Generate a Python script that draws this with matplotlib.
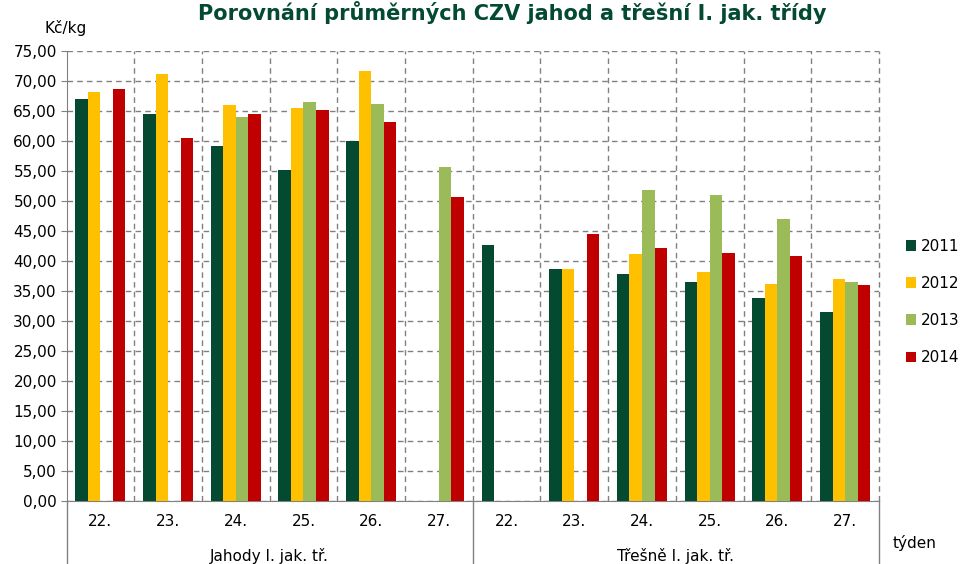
import numpy as np
import matplotlib.pyplot as plt
from matplotlib.lines import Line2D

# data
groups = ['Jahody I. jak. tř.', 'Třešně I. jak. tř.']
weeks = ['22.', '23.', '24.', '25.', '26.', '27.'] * 2
years = ['2011', '2012', '2013', '2014']
nan = np.nan
v2011 = [67.0, 64.5, 59.3, 55.2, 60.1, nan, 42.7, 38.8, 37.9, 36.6, 33.9, 31.6]
v2012 = [68.2, 71.2, 66.0, 65.6, 71.8, nan, nan, 38.8, 41.2, 38.3, 36.3, 37.1]
v2013 = [nan, nan, 64.0, 66.6, 66.2, 55.8, nan, nan, 51.9, 51.0, 47.0, 36.6]
v2014 = [68.7, 60.5, 64.6, 65.3, 63.3, 50.8, nan, 44.6, 42.2, 41.4, 40.9, 36.1]
colors = ['#034a31', '#ffc000', '#9bbb59', '#c00000']

plt.rcParams['font.family'] = 'DejaVu Sans'
fig = plt.figure(figsize=(9.67, 5.64), dpi=100)
W, H = 967.0, 564.0
x0, x1, ytop, ybot = 66.5, 879.0, 51.3, 501.3
ax = fig.add_axes([x0 / W, 1 - ybot / H, (x1 - x0) / W, (ybot - ytop) / H])

x = np.arange(len(weeks))
bw = 0.185
for i, (vals, c, lab) in enumerate(zip([v2011, v2012, v2013, v2014], colors, years)):
    ax.bar(x + (i - 1.5) * bw, vals, bw, color=c, label=lab, zorder=3)

ax.set_xlim(-0.5, len(weeks) - 0.5)
ax.set_ylim(0, 75)
ax.set_yticks(np.arange(0, 76, 5))
ax.set_yticklabels(['%d,00' % v for v in range(0, 76, 5)])
ax.yaxis.grid(True, linestyle=(0, (4, 3)), color='#808080', lw=1)
for xv in np.arange(0.5, len(weeks) + 0.5, 1.0):
    ax.axvline(xv, linestyle=(0, (4, 3)), color='#808080', lw=1, zorder=1, clip_on=False)
ax.set_axisbelow(True)

for s in ['top', 'right']:
    ax.spines[s].set_visible(False)
for s in ['left', 'bottom']:
    ax.spines[s].set_color('#808080')
ax.tick_params(axis='y', length=4, color='#808080', labelsize=11, pad=3)
ax.set_xticks(x)
ax.set_xticklabels(weeks)
ax.tick_params(axis='x', length=0, labelsize=11, pad=9)

# category dividers below axis
low = -(563 - ybot) / (ybot - ytop)
for xa in [0, 0.5, 1]:
    ax.add_line(Line2D([xa, xa], [0, low], transform=ax.transAxes,
                       color='#808080', lw=1, clip_on=False))
gy = -(556 - ybot) / (ybot - ytop)
ax.text(0.25, gy, groups[0], transform=ax.transAxes, ha='center', va='center', fontsize=11)
ax.text(0.75, gy, groups[1], transform=ax.transAxes, ha='center', va='center', fontsize=11)

fig.text(915 / W, 1 - 543 / H, 'týden', ha='center', va='center', fontsize=11)
fig.text(66 / W, 1 - 28 / H, 'Kč/kg', ha='center', va='center', fontsize=11)
fig.text(512 / W, 1 - 13 / H, 'Porovnání průměrných CZV jahod a třešní I. jak. třídy',
         ha='center', va='center', fontsize=15, fontweight='bold', color='#034a31')

ax.legend(loc='center left', bbox_to_anchor=(892 / W, 1 - 302 / H),
          bbox_transform=fig.transFigure, frameon=False, fontsize=11,
          handlelength=0.7, handleheight=0.7, handletextpad=0.3, labelspacing=1.45)

plt.savefig('out.png', dpi=100)
